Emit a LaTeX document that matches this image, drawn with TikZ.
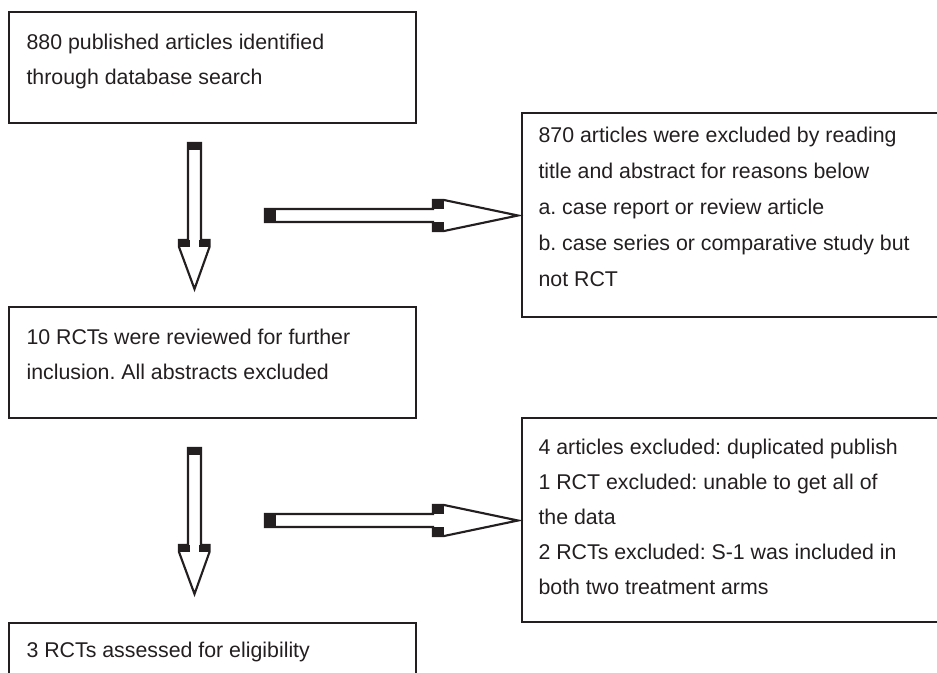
\documentclass[tikz,border=0pt]{standalone}
\usepackage{fontspec}
\setmainfont{Liberation Sans}
\usetikzlibrary{fit,calc}
\frenchspacing

\definecolor{ink}{RGB}{35,31,32}

\tikzset{
  box/.style={draw=ink, line width=1.1pt, inner sep=0pt},
  boxtext/.style={anchor=north west, inner sep=0pt, align=left, text=ink,
    font=\fontsize{16pt}{26.3pt}\selectfont},
  blockarrow/.style={draw=ink, line width=1.6pt, fill=white, line join=miter},
  blockcap/.style={fill=ink}
}

\begin{document}
\begin{tikzpicture}[x=0.75pt, y=-0.75pt]
    \path[use as bounding box] (0,0) rectangle (937,672);
    \clip (0,0) rectangle (937,672);

    % left column
    \node[box, fit={(9,12) (416,123)}] (search) {};
    \node[box, fit={(9,307) (416,418)}] (review) {};
    \node[box, fit={(9,623) (416,740)}] (assess) {};
    % right column (runs past the page edge)
    \node[box, fit={(522,113) (960,317)}] (excl1) {};
    \node[box, fit={(522,418) (960,622)}] (excl2) {};

    \node[boxtext] (searchtxt) at ($(search.north west)+(18,22.5)$)
        {880 published articles identified\\through database search};
    \node[boxtext] (reviewtxt) at ($(review.north west)+(18,22.5)$)
        {10 RCTs were reviewed for further\\inclusion. All abstracts excluded};
    \node[boxtext] (assesstxt) at ($(assess.north west)+(18,19.5)$)
        {3 RCTs assessed for eligibility};
    \node[boxtext, font=\fontsize{16pt}{27pt}\selectfont] (excl1txt)
        at ($(excl1.north west)+(17,14.5)$)
        {870 articles were excluded by reading\\title and abstract for reasons below\\
         a. case report or review article\\b. case series or comparative study but\\not RCT};
    \node[boxtext] (excl2txt) at ($(excl2.north west)+(17,21.5)$)
        {4 articles excluded: duplicated publish\\1 RCT excluded: unable to get all of\\
         the data\\2 RCTs excluded: S-1 was included in\\both two treatment arms};

    % block arrows, second pair is the first one moved down
    \foreach \n/\dy in {1/0, 2/305} {
        \begin{scope}[shift={(0,\dy)}]
            \coordinate (vtail\n) at (194.5,143);
            \coordinate (vtip\n) at (194.5,289);
            \coordinate (htail\n) at (265,215.5);
            \coordinate (htip\n) at (518,215.5);

            \draw[blockarrow] (vtail\n) ++(-6.5,0) -- ++(0,97) -- ++(-9,0) -- ++(0,7)
                -- (vtip\n) -- ++(15,-42) -- ++(0,-7) -- ++(-8.5,0) -- ++(0,-97) -- cycle;
            \fill[blockcap] (vtail\n) ++(-6.5,0) rectangle ++(13,6.5);
            \fill[blockcap] (vtail\n) ++(-15.5,97) rectangle ++(11,7);
            \fill[blockcap] (vtail\n) ++(4.5,97) rectangle ++(11,7);

            \draw[blockarrow] (htail\n) ++(0,-6.5) -- ++(168,0) -- ++(0,-9) -- ++(11,0)
                -- (htip\n) -- ++(-74,15.5) -- ++(-11,0) -- ++(0,-9) -- ++(-168,0) -- cycle;
            \fill[blockcap] (htail\n) ++(0,-6.5) rectangle ++(11,13);
            \fill[blockcap] (htail\n) ++(168,-15.5) rectangle ++(11,9);
            \fill[blockcap] (htail\n) ++(168,6.5) rectangle ++(11,9);
        \end{scope}
    }
\end{tikzpicture}
\end{document}
